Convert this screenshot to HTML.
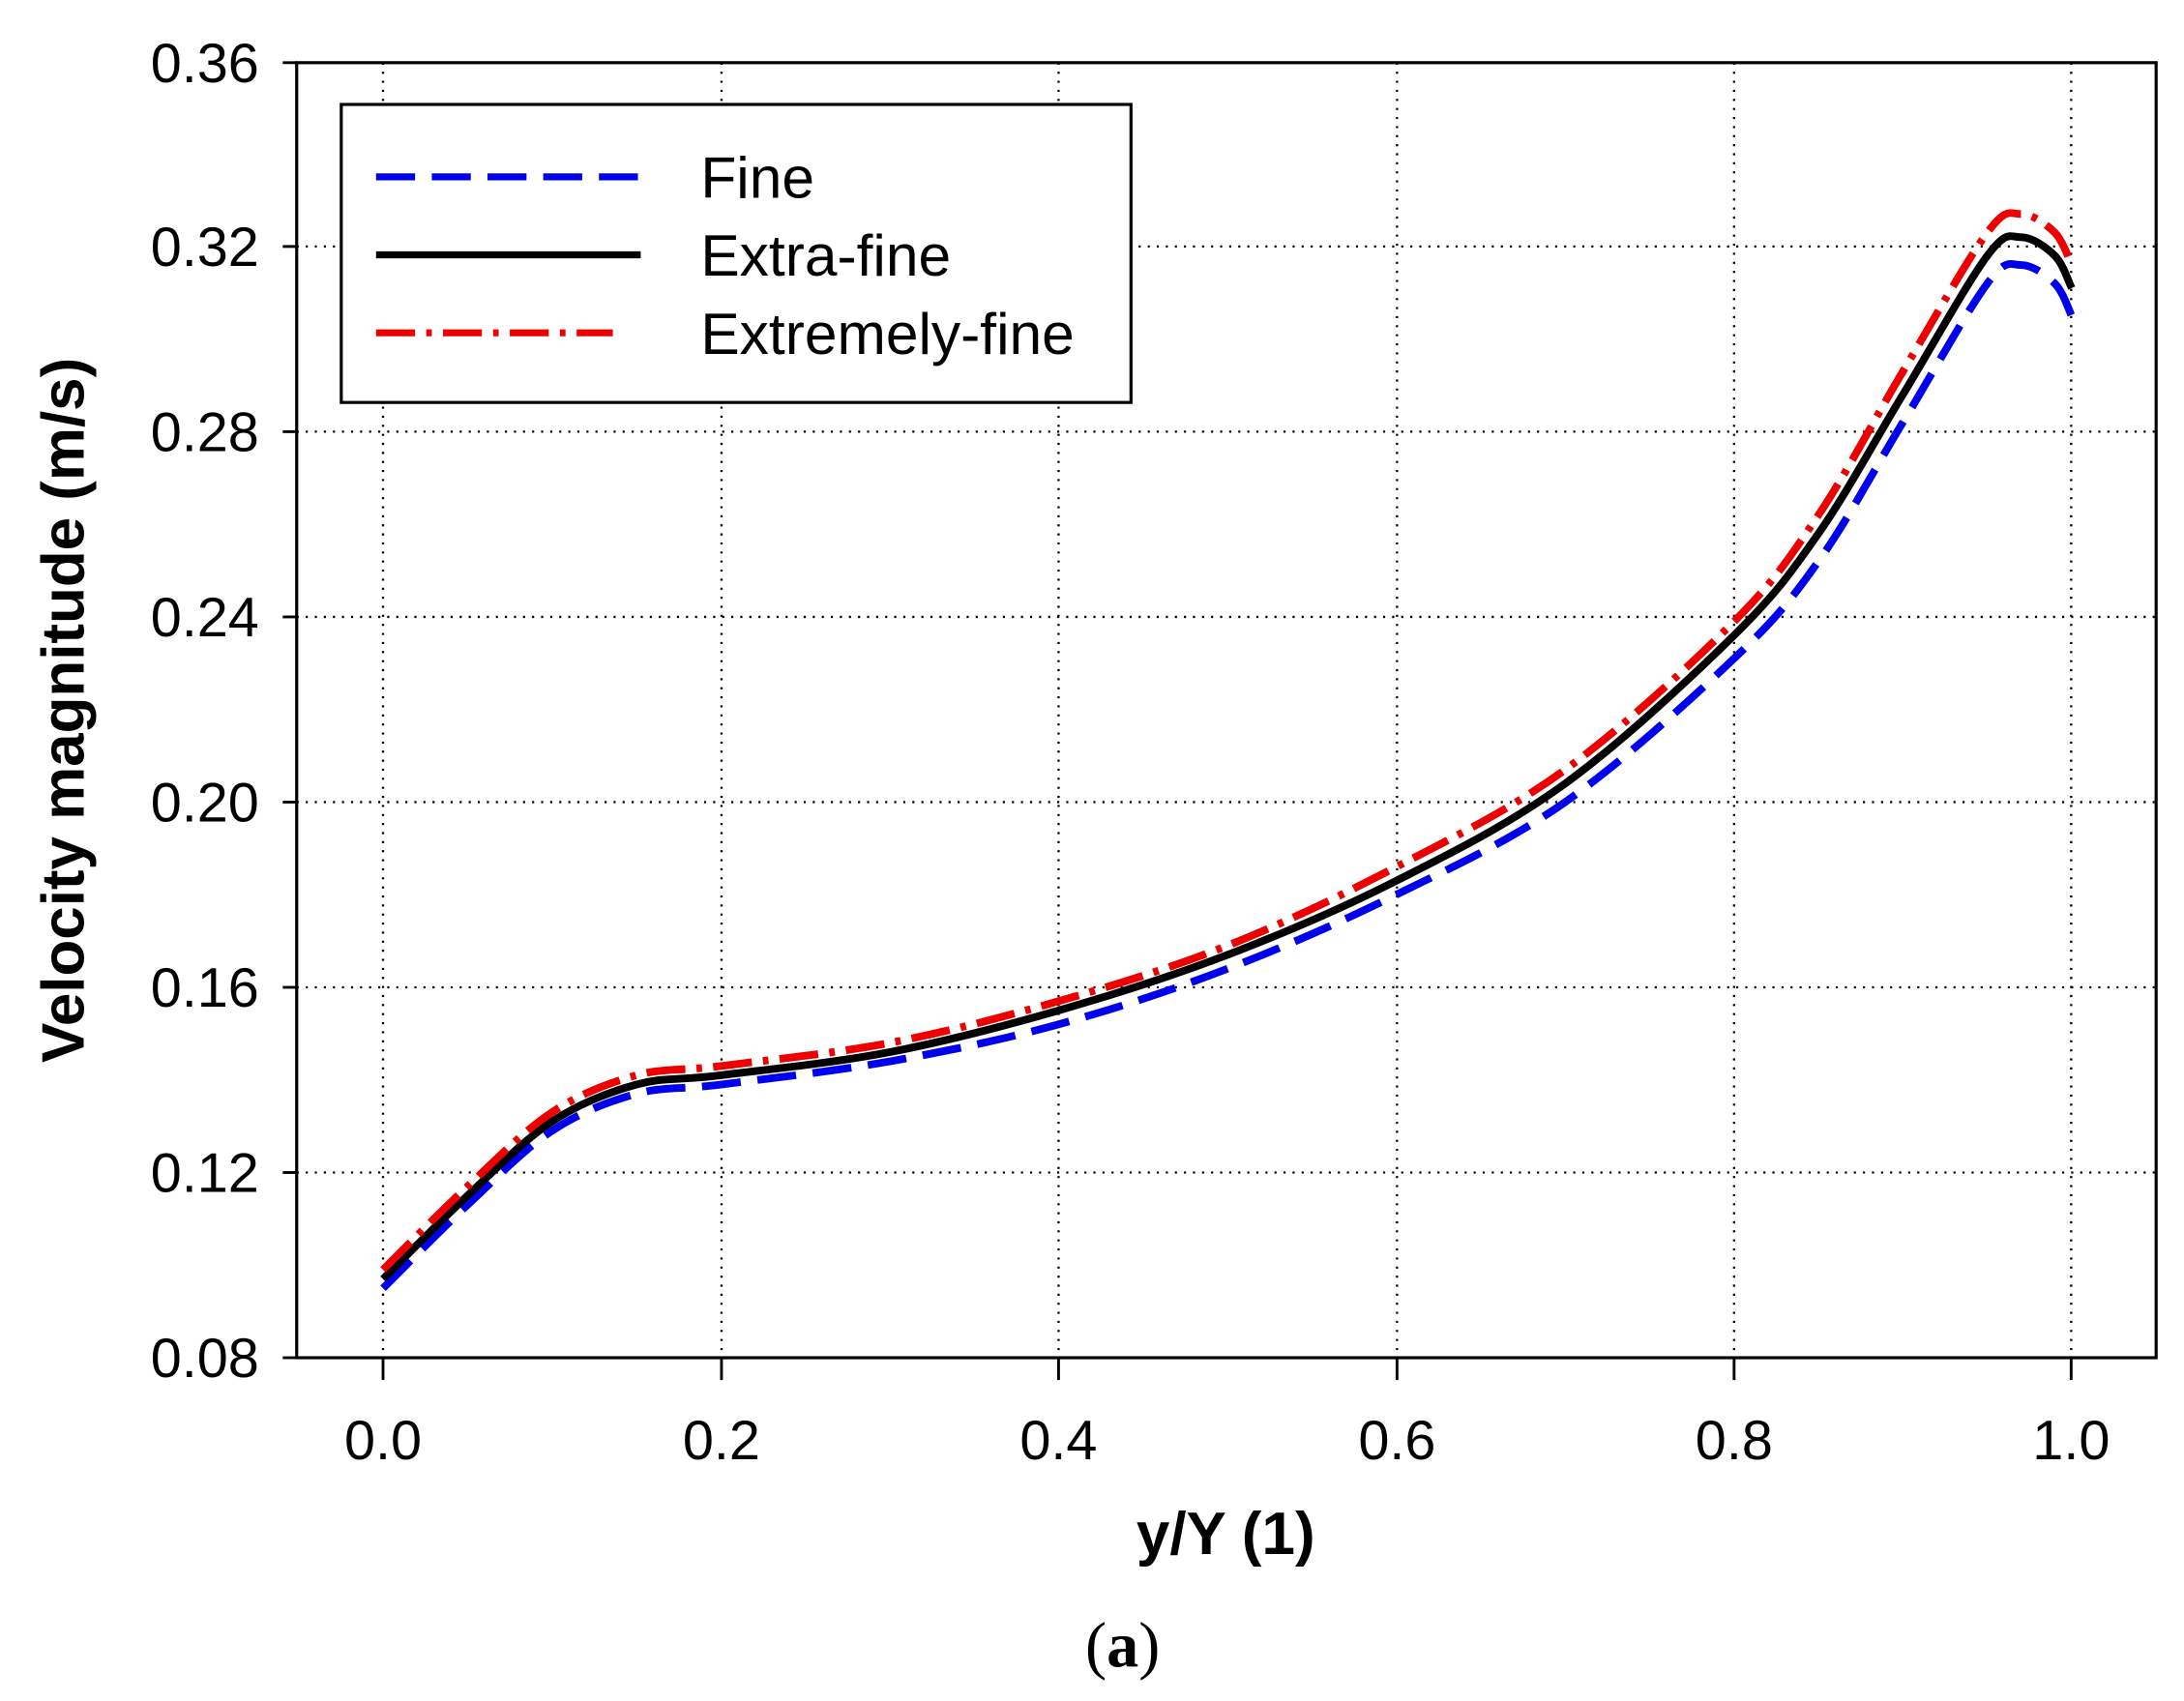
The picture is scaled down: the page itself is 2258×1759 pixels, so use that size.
<!DOCTYPE html>
<html><head><meta charset="utf-8"><style>
html,body{margin:0;padding:0;background:#fff}
svg{display:block}
text{font-family:"Liberation Sans",Arial,sans-serif}
</style></head><body>
<svg id="s" width="2258" height="1759" viewBox="0 0 1568 1221.5" xmlns="http://www.w3.org/2000/svg">
<rect width="1568" height="1221.5" fill="#fff"/>
<g stroke="#000" stroke-width="1.6" stroke-dasharray="1.5 5">
<line x1="213" y1="177" x2="1548" y2="177"/>
<line x1="213" y1="310" x2="1548" y2="310"/>
<line x1="213" y1="443" x2="1548" y2="443"/>
<line x1="213" y1="576" x2="1548" y2="576"/>
<line x1="213" y1="709" x2="1548" y2="709"/>
<line x1="213" y1="842" x2="1548" y2="842"/>
<line x1="275" y1="45" x2="275" y2="975"/>
<line x1="518" y1="45" x2="518" y2="975"/>
<line x1="760" y1="45" x2="760" y2="975"/>
<line x1="1003" y1="45" x2="1003" y2="975"/>
<line x1="1245" y1="45" x2="1245" y2="975"/>
<line x1="1487" y1="45" x2="1487" y2="975"/>
</g>
<rect x="213" y="45" width="1335" height="930" fill="none" stroke="#000" stroke-width="2.2"/>
<g stroke="#000" stroke-width="2">
<line x1="203" y1="45" x2="213" y2="45"/><line x1="203" y1="177" x2="213" y2="177"/>
<line x1="203" y1="310" x2="213" y2="310"/><line x1="203" y1="443" x2="213" y2="443"/>
<line x1="203" y1="576" x2="213" y2="576"/><line x1="203" y1="709" x2="213" y2="709"/>
<line x1="203" y1="842" x2="213" y2="842"/><line x1="203" y1="975" x2="213" y2="975"/>
<line x1="275" y1="975" x2="275" y2="991"/><line x1="518" y1="975" x2="518" y2="991"/>
<line x1="760" y1="975" x2="760" y2="991"/><line x1="1003" y1="975" x2="1003" y2="991"/>
<line x1="1245" y1="975" x2="1245" y2="991"/><line x1="1487" y1="975" x2="1487" y2="991"/>
</g>
<g font-size="40" text-anchor="end">
<text x="186" y="59">0.36</text><text x="186" y="191">0.32</text>
<text x="186" y="324">0.28</text><text x="186" y="457">0.24</text>
<text x="186" y="590">0.20</text><text x="186" y="723">0.16</text>
<text x="186" y="856">0.12</text><text x="186" y="989">0.08</text>
</g>
<g font-size="40" text-anchor="middle">
<text x="275" y="1048">0.0</text><text x="518" y="1048">0.2</text>
<text x="760" y="1048">0.4</text><text x="1003" y="1048">0.6</text>
<text x="1245" y="1048">0.8</text><text x="1487" y="1048">1.0</text>
</g>
<text x="880" y="1116" font-size="43" font-weight="bold" text-anchor="middle">y/Y (1)</text>
<text transform="translate(60,510) rotate(-90)" font-size="43" font-weight="bold" text-anchor="middle">Velocity magnitude (m/s)</text>
<text x="806" y="1197" font-size="46" text-anchor="middle" style="font-family:'Liberation Serif',serif">(<tspan font-weight="bold">a</tspan>)</text>
<g id="curves"></g>
<rect x="245" y="75" width="567" height="214" fill="#fff" stroke="#000" stroke-width="2.2"/>
<line x1="270" y1="127" x2="460" y2="127" stroke="#0000ee" stroke-width="5" stroke-dasharray="28 12"/>
<line x1="270" y1="183" x2="460" y2="183" stroke="#000" stroke-width="5"/>
<line x1="270" y1="239" x2="440" y2="239" stroke="#ee0000" stroke-width="5" stroke-dasharray="28 8 4 8"/>
<g font-size="42"><text x="503" y="142">Fine</text><text x="503" y="198">Extra-fine</text><text x="503" y="254">Extremely-fine</text></g>
</svg>
<script>
function X(t){return 275+t*1212.4}function Y(v){return 975-(v-0.08)*3325}
var ts=[0,0.05,0.1,0.15,0.2,0.3,0.4,0.5,0.6,0.7,0.8,0.85,0.9,0.95,0.97,0.99,1.0];
var data={
k:[0.097,0.115,0.131,0.139,0.141,0.146,0.155,0.167,0.183,0.204,0.236,0.258,0.288,0.318,0.322,0.318,0.311],
r:[0.099,0.117,0.133,0.141,0.143,0.148,0.157,0.169,0.186,0.207,0.239,0.262,0.293,0.323,0.327,0.323,0.316],
b:[0.095,0.113,0.129,0.137,0.139,0.144,0.152,0.164,0.180,0.200,0.231,0.252,0.282,0.312,0.316,0.312,0.305]};
function path(vs){var p=ts.map(function(t,i){return[X(t),Y(vs[i])]});var d="M"+p[0];
for(var i=0;i<p.length-1;i++){var p0=p[i-1]||p[i],p1=p[i],p2=p[i+1],p3=p[i+2]||p2;
var c1=[p1[0]+(p2[0]-p0[0])/6,p1[1]+(p2[1]-p0[1])/6],c2=[p2[0]-(p3[0]-p1[0])/6,p2[1]-(p3[1]-p1[1])/6];
d+="C"+c1+" "+c2+" "+p2;}return d;}
var g=document.getElementById("curves");
var st={b:['#0000ee','28 12'],k:['#000','none'],r:['#ee0000','28 8 4 8']};
['b','k','r'].forEach(function(k){var e=document.createElementNS("http://www.w3.org/2000/svg","path");
e.setAttribute("d",path(data[k]));e.setAttribute("fill","none");e.setAttribute("stroke",st[k][0]);
e.setAttribute("stroke-width","5.5");e.setAttribute("stroke-dasharray",st[k][1]);g.appendChild(e);});
</script>
</body></html>
